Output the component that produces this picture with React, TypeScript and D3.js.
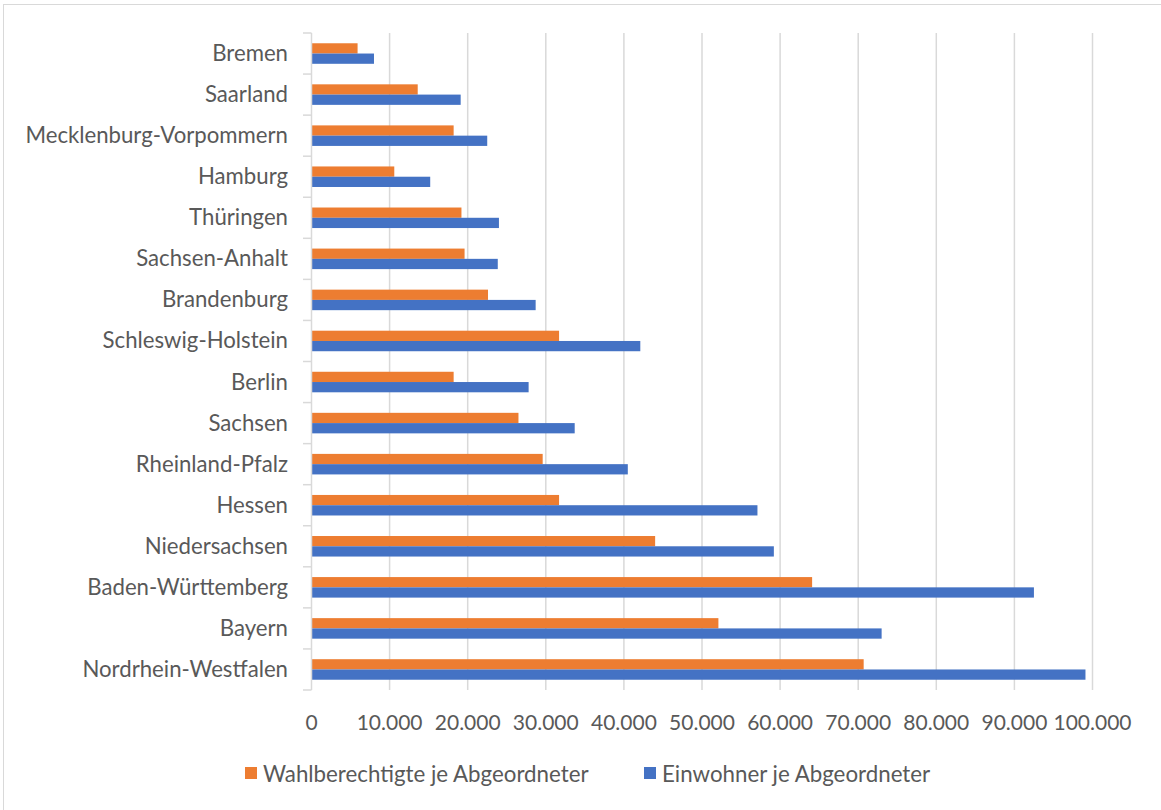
import React from "react";
import * as d3 from "d3";

const categories = [
  "Bremen",
  "Saarland",
  "Mecklenburg-Vorpommern",
  "Hamburg",
  "Thüringen",
  "Sachsen-Anhalt",
  "Brandenburg",
  "Schleswig-Holstein",
  "Berlin",
  "Sachsen",
  "Rheinland-Pfalz",
  "Hessen",
  "Niedersachsen",
  "Baden-Württemberg",
  "Bayern",
  "Nordrhein-Westfalen",
];

const wahlberechtigte = [
  5900, 13600, 18200, 10600, 19200, 19600, 22600, 31700, 18200, 26500, 29600,
  31700, 44000, 64100, 52100, 70700,
];

const einwohner = [
  8000, 19100, 22500, 15200, 24000, 23850, 28700, 42100, 27800, 33700, 40500,
  57100, 59200, 92500, 73000, 99100,
];

const seriesNames = ["Wahlberechtigte je Abgeordneter", "Einwohner je Abgeordneter"];
const seriesColors = ["#ED7D31", "#4472C4"];
const xTicks = [0, 10000, 20000, 30000, 40000, 50000, 60000, 70000, 80000, 90000, 100000];

const W = 1161;
const H = 810;
const FONT = "Lato, 'Open Sans', sans-serif";

export default function App() {
  const x = d3.scaleLinear().domain([0, 100000]).range([311.5, 1092.5]);
  const y = d3.scaleBand<string>().domain(categories).range([33, 690]).paddingInner(0).paddingOuter(0);
  const step = y.step();
  const barH = step / 4;
  const fmt = (v: number) => (v === 0 ? "0" : d3.format(",")(v).replace(/,/g, "."));
  const series = [wahlberechtigte, einwohner];

  return (
    <svg
      width={W}
      height={H}
      style={{ position: "fixed", left: 0, top: 0, background: "#fff" }}
      fontFamily={FONT}
    >
      <rect x={3.5} y={4.5} width={W + 10} height={H + 10} fill="#fff" stroke="#d9d9d9" strokeWidth={1} />
      {/* gridlines */}
      {xTicks.slice(1).map((t) => (
        <line key={t} x1={x(t)} x2={x(t)} y1={33} y2={690} stroke="#d9d9d9" strokeWidth={1.5} />
      ))}
      {/* bars */}
      {categories.map((c, i) => (
        <g key={c}>
          {series.map((s, j) => (
            <rect
              key={j}
              x={x(0)}
              y={(y(c) as number) + barH + j * barH}
              width={x(s[i]) - x(0)}
              height={barH}
              fill={seriesColors[j]}
            />
          ))}
        </g>
      ))}
      {/* category axis */}
      <line x1={x(0)} x2={x(0)} y1={33} y2={690} stroke="#d9d9d9" strokeWidth={1.5} />
      {d3.range(categories.length + 1).map((k) => (
        <line key={k} x1={303} x2={x(0)} y1={33 + k * step} y2={33 + k * step} stroke="#d9d9d9" strokeWidth={1.5} />
      ))}
      {categories.map((c) => (
        <text
          key={c}
          x={288}
          y={(y(c) as number) + step / 2 - 1}
          textAnchor="end"
          dominantBaseline="central"
          fontSize={22.2}
          fill="#595959"
        >
          {c}
        </text>
      ))}
      {/* value axis labels */}
      {xTicks.map((t) => (
        <text key={t} x={x(t)} y={721} textAnchor="middle" dominantBaseline="central" fontSize={21} fill="#595959">
          {fmt(t)}
        </text>
      ))}
      {/* legend */}
      {[0, 1].map((j) => {
        const lx = j === 0 ? 245 : 644;
        return (
          <g key={j}>
            <rect x={lx} y={767} width={12} height={12} fill={seriesColors[j]} />
            <text x={lx + 18} y={773} dominantBaseline="central" fontSize={22.3} fill="#595959">
              {seriesNames[j]}
            </text>
          </g>
        );
      })}
    </svg>
  );
}
